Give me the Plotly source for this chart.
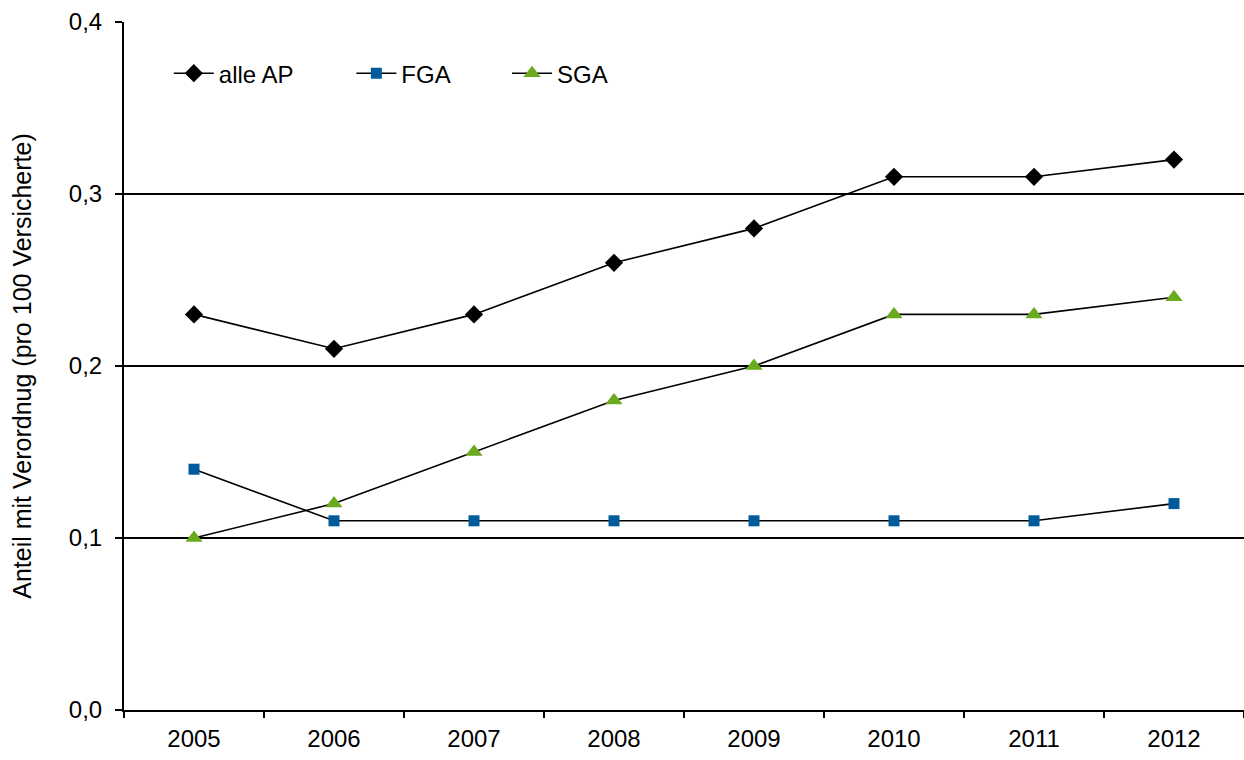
import plotly.graph_objects as go

years = ["2005", "2006", "2007", "2008", "2009", "2010", "2011", "2012"]
alle_ap = [0.23, 0.21, 0.23, 0.26, 0.28, 0.31, 0.31, 0.32]
fga = [0.14, 0.11, 0.11, 0.11, 0.11, 0.11, 0.11, 0.12]
sga = [0.10, 0.12, 0.15, 0.18, 0.20, 0.23, 0.23, 0.24]

FONT = "Liberation Sans, Arial, sans-serif"

fig = go.Figure()
series = [
    ("alle AP", alle_ap, "diamond", "#000000", 14, "legend", 0.040),
    ("FGA", fga, "square", "#005A9C", 11, "legend2", 0.203),
    ("SGA", sga, "triangle-up", "#6AAA1E", 15, "legend3", 0.342),
]
legend_cfg = {}
for name, vals, sym, col, size, leg, lx in series:
    fig.add_trace(go.Scatter(
        x=years, y=vals, name=name, mode="lines+markers",
        line=dict(color="#000000", width=1.6),
        marker=dict(symbol=sym, color=col, size=size, line=dict(width=0)),
        legend=leg,
    ))
    legend_cfg[leg] = dict(
        orientation="h", x=lx, y=0.925, xanchor="left", yanchor="middle",
        font=dict(family=FONT, size=24, color="#000000"),
        itemwidth=40, bgcolor="rgba(0,0,0,0)",
    )

fig.update_layout(
    width=1244, height=760,
    margin=dict(l=124, r=0, t=22, b=50),
    paper_bgcolor="white", plot_bgcolor="white",
    font=dict(family=FONT, size=24, color="#000000"),
    separators=",.",
    showlegend=True,
    xaxis=dict(
        type="category", range=[-0.5, 7.5],
        showline=True, linecolor="#000000", linewidth=2,
        ticks="outside", tickson="boundaries", ticklen=6, tickcolor="#000000", tickwidth=1.5,
        showgrid=False, tickfont=dict(size=24), ticklabelstandoff=6,
    ),
    yaxis=dict(
        range=[0, 0.4], dtick=0.1, tickformat=".1f",
        showline=True, linecolor="#000000", linewidth=2,
        ticks="outside", ticklen=7, tickcolor="#000000", tickwidth=1.5,
        showgrid=True, gridcolor="#000000", gridwidth=1.5,
        zeroline=False, tickfont=dict(size=24), ticklabelstandoff=8,
        title=dict(text="Anteil mit Verordnug (pro 100 Versicherte)", font=dict(size=25), standoff=30),
    ),
    **legend_cfg,
)

fig.write_html("out.html")
